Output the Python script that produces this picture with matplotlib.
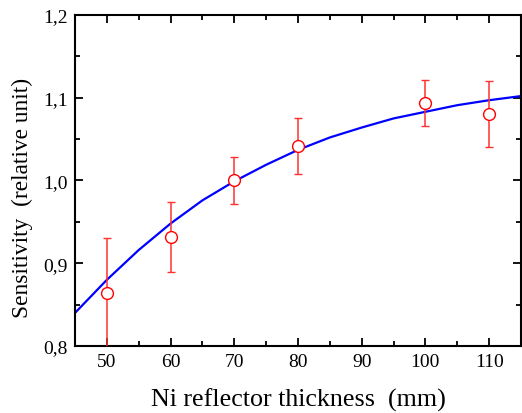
import matplotlib
matplotlib.use("Agg")
import matplotlib.pyplot as plt
from matplotlib.ticker import MultipleLocator, FuncFormatter

plt.rcParams['font.family'] = ['Liberation Serif', 'DejaVu Serif']

# Measured data
thickness = [50, 60, 70, 80, 100, 110]
sensitivity = [0.864, 0.932, 1.000, 1.042, 1.094, 1.080]
errors = [0.067, 0.042, 0.028, 0.034, 0.028, 0.040]

# Fit curve
fit_x = [45, 50, 55, 60, 65, 70, 75, 80, 85, 90, 95, 100, 105, 110, 115]
fit_y = [0.840, 0.880, 0.916, 0.948, 0.976, 0.999, 1.019, 1.037, 1.052,
         1.064, 1.075, 1.083, 1.091, 1.097, 1.102]

x_ticks = [50, 60, 70, 80, 90, 100, 110]
y_ticks = [0.8, 0.9, 1.0, 1.1, 1.2]

fig = plt.figure(figsize=(5.22, 4.14), dpi=100)
ax = fig.add_axes([0.1437, 0.1618, 0.8543, 0.7996])

ax.plot(fit_x, fit_y, color='#0000ff', lw=1.6, zorder=2, solid_joinstyle='round')
ax.errorbar(thickness, sensitivity, yerr=errors, fmt='o', color='#ff2020',
            ecolor='#ff3030', elinewidth=1.1, capsize=2.6, capthick=1.1,
            markersize=8.5, markerfacecolor='white', markeredgecolor='#ff0000',
            markeredgewidth=1.0, zorder=3)

ax.set_xlim(45, 115)
ax.set_ylim(0.8, 1.2)
ax.set_xticks(x_ticks)
ax.set_yticks(y_ticks)
ax.xaxis.set_minor_locator(MultipleLocator(5))
ax.yaxis.set_minor_locator(MultipleLocator(0.05))
ax.yaxis.set_major_formatter(FuncFormatter(lambda v, p: f"{v:.1f}".replace('.', ',')))

ax.tick_params(which='both', direction='in', top=True, right=True,
               labeltop=False, labelright=False, labelsize=14, width=1.3)
ax.tick_params(which='major', length=6, pad=5)
ax.tick_params(which='minor', length=3.5)
for s in ax.spines.values():
    s.set_linewidth(1.5)

ax.set_xlabel('Ni reflector thickness  (mm)', fontsize=18.7, labelpad=13)
ax.set_ylabel('Sensitivity  (relative unit)', fontsize=16.8)
ax.yaxis.set_label_coords(-0.095, 0.45)

fig.savefig('out.png', dpi=100)
